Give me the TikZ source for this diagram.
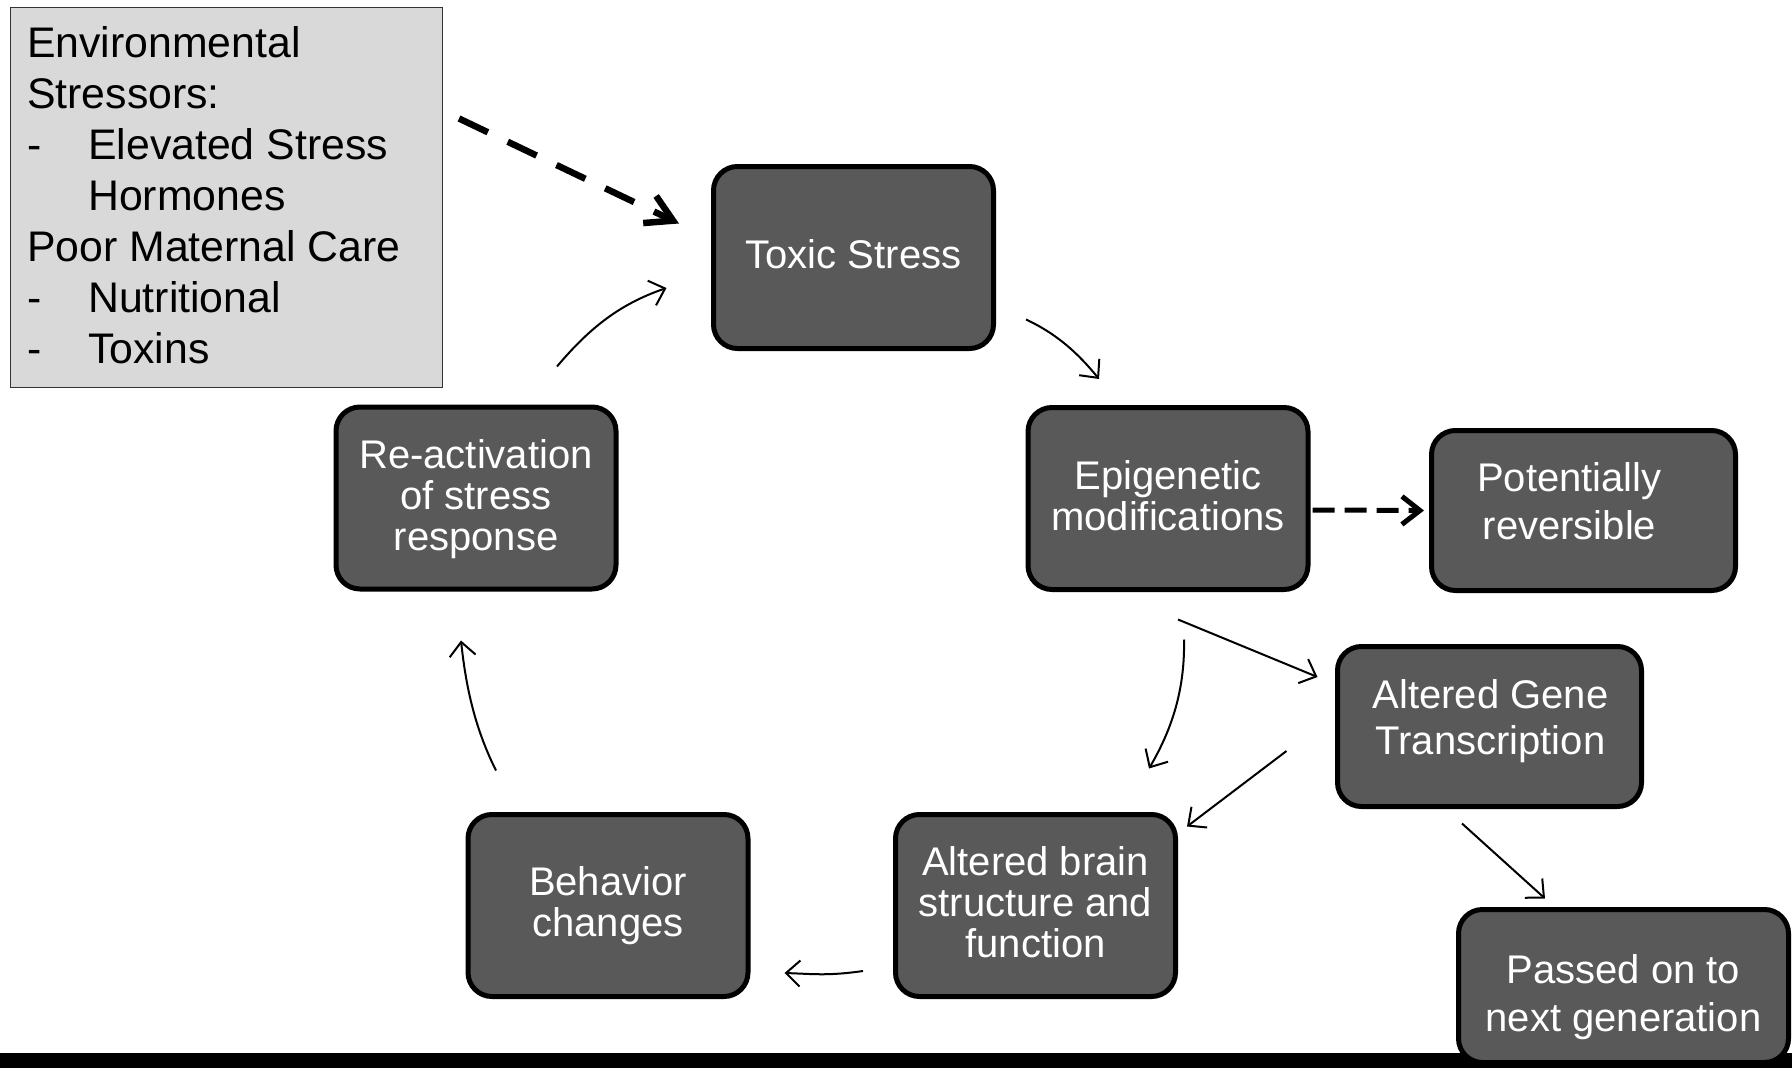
\documentclass[tikz,border=0pt]{standalone}
\usepackage{fontspec}
\setmainfont{Liberation Sans}
\usetikzlibrary{arrows.meta}
\definecolor{boxgray}{HTML}{595959}
\definecolor{lightbox}{HTML}{D9D9D9}
\begin{document}
\begin{tikzpicture}[x=1pt,y=-1pt,
  stage/.style={draw=black, line width=5pt, fill=boxgray, rounded corners=24pt, inner sep=0pt},
  bigstage/.style={stage, minimum width=280pt, minimum height=182pt},
  smallstage/.style={stage, minimum width=304pt, minimum height=160pt},
  stagetext/.style={text=white, align=center, inner sep=0pt, font=\fontsize{40}{41}\selectfont},
  flow/.style={line width=2pt, -{Straight Barb[length=14pt,width=26pt]}},
  dflow/.style={line width=5pt, dash pattern=on 22pt off 10pt,
    -{Straight Barb[length=18pt,width=28pt]}},
  ddflow/.style={line width=6.5pt, dash pattern=on 32pt off 22pt,
    -{Straight Barb[length=26pt,width=30pt]}}]
\useasboundingbox (0,0) rectangle (1792,1068);
\fill[black] (0,1053) rectangle (1792,1068);

\node[draw=black!80, line width=1.5pt, fill=lightbox, minimum width=432pt,
  minimum height=380pt, anchor=north west, inner sep=0pt] (env) at (9.5,6.5) {};
\node[anchor=north west, align=left, inner sep=0pt,
  font=\fontsize{42.8}{51}\selectfont] (envtext) at (27,26.4)
  {Environmental\\Stressors:\\\makebox[61pt][l]{-}Elevated Stress\\\hspace*{61pt}Hormones\\Poor Maternal Care\\\makebox[61pt][l]{-}Nutritional\\\makebox[61pt][l]{-}Toxins};

\node[bigstage] (toxic) at (853.5,257.5) {};
\node[bigstage] (epi) at (1168,498.5) {};
\node[smallstage] (rev) at (1583.5,510.5) {};
\node[smallstage] (gene) at (1489.5,726.5) {};
\node[stage, minimum width=330pt, minimum height=153pt] (pass) at (1623.5,986) {};
\node[bigstage] (brain) at (1035.5,905.5) {};
\node[bigstage] (behav) at (608,905.5) {};
\node[bigstage] (react) at (476,498) {};

\node[stagetext] (toxict) at ([shift={(0,-3.5)}]toxic.center) {Toxic Stress};
\node[stagetext] (epit) at ([shift={(0,-2.5)}]epi.center) {Epigenetic\\modifications};
\node[stagetext, font=\fontsize{40}{48}\selectfont] (revt) at ([shift={(-14,-9)}]rev.center) {Potentially\\reversible};
\node[stagetext, font=\fontsize{40}{46}\selectfont] (genet) at ([shift={(1,-5)}]gene.center) {Altered Gene\\Transcription};
\node[stagetext, font=\fontsize{40}{48}\selectfont] (passt) at ([shift={(0,11)}]pass.center) {Passed on to\\next generation};
\node[stagetext] (braint) at ([shift={(0,-3.5)}]brain.center) {Altered brain\\structure and\\function};
\node[stagetext] (behavt) at (behav.center) {Behavior\\changes};
\node[stagetext] (reactt) at ([shift={(0,1)}]react.center) {Re-activation\\of stress\\response};

\draw[ddflow] ([shift={(16,112)}]env.north east) -- ([shift={(-32,-34)}]toxic.west);
\draw[flow] ([shift={(30,-31.5)}]toxic.south east) .. controls +(30,14) and +(-22,-27) .. ([shift={(73.5,-26)}]epi.north west);
\draw[dflow] ([shift={(2,11.5)}]epi.east) -- ([shift={(-5,0)}]rev.west);
\draw[flow] ([shift={(10,27.5)}]epi.south) -- ([shift={(-17.5,-49.5)}]gene.west);
\draw[flow] ([shift={(16,47.5)}]epi.south) .. controls +(1,48) and +(24,-41) .. ([shift={(113.5,-43.5)}]brain.north);
\draw[flow] ([shift={(-48.5,24.5)}]gene.west) -- ([shift={(9,14.5)}]brain.north east);
\draw[flow] ([shift={(-27.5,14.5)}]gene.south) -- ([shift={(-78.5,-8.5)}]pass.north);
\draw[flow] ([shift={(-30,65.5)}]brain.west) .. controls +(-35,5) and +(30,1) .. ([shift={(34,67.5)}]behav.east);
\draw[flow] ([shift={(-112,-41.5)}]behav.north) .. controls +(-21,-42) and +(5,47) .. ([shift={(-15,49)}]react.south);
\draw[flow] ([shift={(-61.5,-38)}]react.north east) .. controls +(32,-38) and +(-47,16) .. ([shift={(-44.5,30.5)}]toxic.west);
\end{tikzpicture}
\end{document}
